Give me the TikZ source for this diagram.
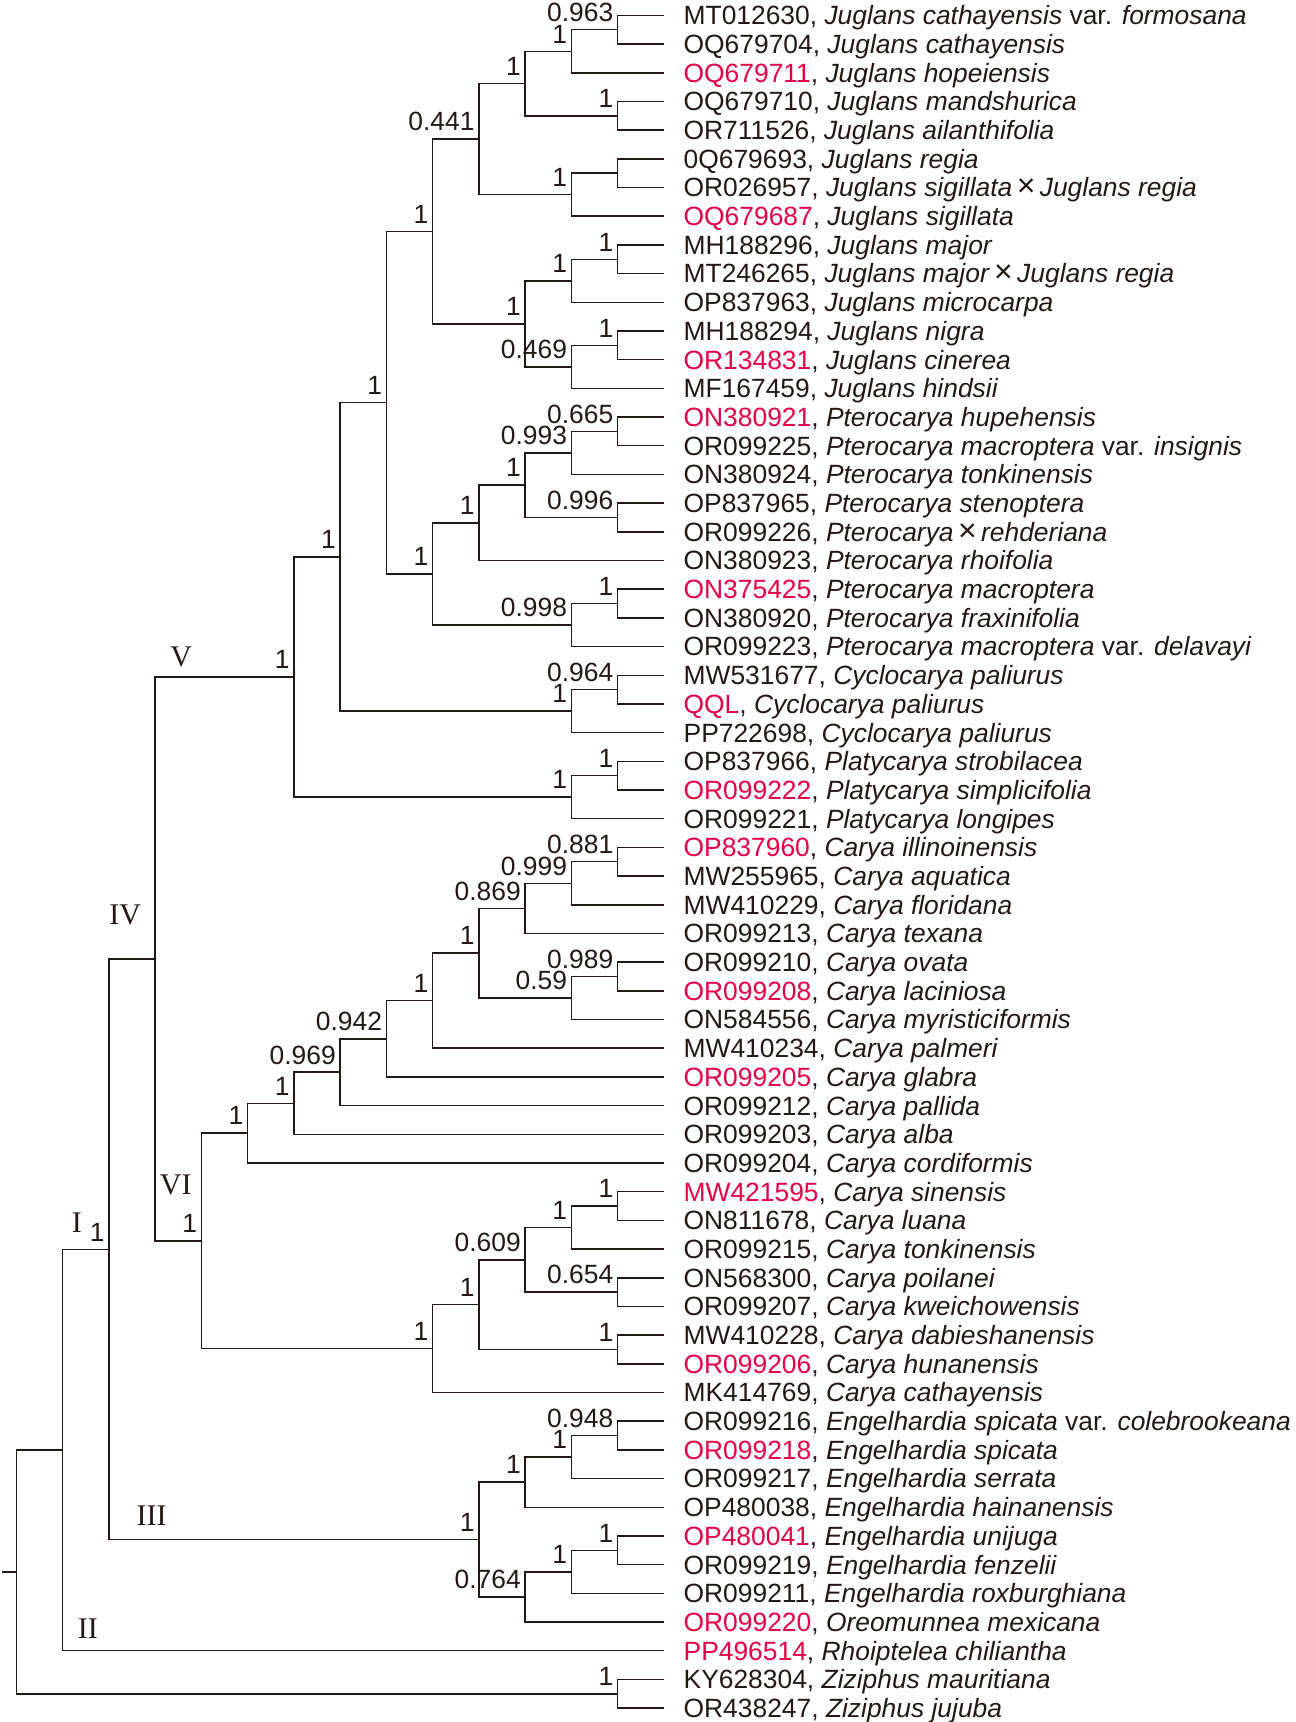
\documentclass[tikz,border=0pt]{standalone}
\usepackage{fontspec}
\usepackage{xcolor}
\usepackage{tikz}
\usetikzlibrary{positioning}
\setmainfont{Liberation Sans}
\newfontfamily\romfont{Liberation Serif}
\definecolor{ink}{RGB}{35,24,21}
\definecolor{accred}{RGB}{228,0,70}
\newcommand{\redacc}[1]{\textcolor{accred}{#1}}
\newcommand{\hyb}{\,{\fontsize{16}{15}\selectfont ×}\,}
\newcommand{\clade}[6]{%
    \coordinate (#1) at (#2,#3);
    \draw [branch] (#4) -| (#1) |- (#5);
    \node (#1s) [support] at (#1) {#6};}

\begin{document}
\begin{tikzpicture}[ x=23.12pt, y=-14.345pt, node distance=9.7pt,
    font=\fontsize{13.2}{15}\selectfont,
    branch/.style= {draw=ink, line width=0.75pt},
    leaf/.style= {inner sep=0pt, text height=9.4pt, text depth=0pt, text=ink},
    support/.style= {anchor=base east, inner sep=0pt, xshift=-2pt, yshift=4.1pt, text=ink},
    clademark/.style= {inner sep=0pt, text=ink, font=\romfont\fontsize{15}{15}\selectfont} ]
    \useasboundingbox (-0.3564,0.4639) rectangle (27.650,60.485);
    \coordinate (t1) at (14,1); \node (l1) [leaf, right=of t1] {MT012630, \textit{Juglans cathayensis} var. \textit{formosana}};
    \coordinate (t2) at (14,2); \node (l2) [leaf, right=of t2] {OQ679704, \textit{Juglans cathayensis}};
    \coordinate (t3) at (14,3); \node (l3) [leaf, right=of t3] {\redacc{OQ679711}, \textit{Juglans hopeiensis}};
    \coordinate (t4) at (14,4); \node (l4) [leaf, right=of t4] {OQ679710, \textit{Juglans mandshurica}};
    \coordinate (t5) at (14,5); \node (l5) [leaf, right=of t5] {OR711526, \textit{Juglans ailanthifolia}};
    \coordinate (t6) at (14,6); \node (l6) [leaf, right=of t6] {0Q679693, \textit{Juglans regia}};
    \coordinate (t7) at (14,7); \node (l7) [leaf, right=of t7] {OR026957, \textit{Juglans sigillata}\hyb\textit{Juglans regia}};
    \coordinate (t8) at (14,8); \node (l8) [leaf, right=of t8] {\redacc{OQ679687}, \textit{Juglans sigillata}};
    \coordinate (t9) at (14,9); \node (l9) [leaf, right=of t9] {MH188296, \textit{Juglans major}};
    \coordinate (t10) at (14,10); \node (l10) [leaf, right=of t10] {MT246265, \textit{Juglans major}\hyb\textit{Juglans regia}};
    \coordinate (t11) at (14,11); \node (l11) [leaf, right=of t11] {OP837963, \textit{Juglans microcarpa}};
    \coordinate (t12) at (14,12); \node (l12) [leaf, right=of t12] {MH188294, \textit{Juglans nigra}};
    \coordinate (t13) at (14,13); \node (l13) [leaf, right=of t13] {\redacc{OR134831}, \textit{Juglans cinerea}};
    \coordinate (t14) at (14,14); \node (l14) [leaf, right=of t14] {MF167459, \textit{Juglans hindsii}};
    \coordinate (t15) at (14,15); \node (l15) [leaf, right=of t15] {\redacc{ON380921}, \textit{Pterocarya hupehensis}};
    \coordinate (t16) at (14,16); \node (l16) [leaf, right=of t16] {OR099225, \textit{Pterocarya macroptera} var. \textit{insignis}};
    \coordinate (t17) at (14,17); \node (l17) [leaf, right=of t17] {ON380924, \textit{Pterocarya tonkinensis}};
    \coordinate (t18) at (14,18); \node (l18) [leaf, right=of t18] {OP837965, \textit{Pterocarya stenoptera}};
    \coordinate (t19) at (14,19); \node (l19) [leaf, right=of t19] {OR099226, \textit{Pterocarya}\hyb\textit{rehderiana}};
    \coordinate (t20) at (14,20); \node (l20) [leaf, right=of t20] {ON380923, \textit{Pterocarya rhoifolia}};
    \coordinate (t21) at (14,21); \node (l21) [leaf, right=of t21] {\redacc{ON375425}, \textit{Pterocarya macroptera}};
    \coordinate (t22) at (14,22); \node (l22) [leaf, right=of t22] {ON380920, \textit{Pterocarya fraxinifolia}};
    \coordinate (t23) at (14,23); \node (l23) [leaf, right=of t23] {OR099223, \textit{Pterocarya macroptera} var. \textit{delavayi}};
    \coordinate (t24) at (14,24); \node (l24) [leaf, right=of t24] {MW531677, \textit{Cyclocarya paliurus}};
    \coordinate (t25) at (14,25); \node (l25) [leaf, right=of t25] {\redacc{QQL}, \textit{Cyclocarya paliurus}};
    \coordinate (t26) at (14,26); \node (l26) [leaf, right=of t26] {PP722698, \textit{Cyclocarya paliurus}};
    \coordinate (t27) at (14,27); \node (l27) [leaf, right=of t27] {OP837966, \textit{Platycarya strobilacea}};
    \coordinate (t28) at (14,28); \node (l28) [leaf, right=of t28] {\redacc{OR099222}, \textit{Platycarya simplicifolia}};
    \coordinate (t29) at (14,29); \node (l29) [leaf, right=of t29] {OR099221, \textit{Platycarya longipes}};
    \coordinate (t30) at (14,30); \node (l30) [leaf, right=of t30] {\redacc{OP837960}, \textit{Carya illinoinensis}};
    \coordinate (t31) at (14,31); \node (l31) [leaf, right=of t31] {MW255965, \textit{Carya aquatica}};
    \coordinate (t32) at (14,32); \node (l32) [leaf, right=of t32] {MW410229, \textit{Carya floridana}};
    \coordinate (t33) at (14,33); \node (l33) [leaf, right=of t33] {OR099213, \textit{Carya texana}};
    \coordinate (t34) at (14,34); \node (l34) [leaf, right=of t34] {OR099210, \textit{Carya ovata}};
    \coordinate (t35) at (14,35); \node (l35) [leaf, right=of t35] {\redacc{OR099208}, \textit{Carya laciniosa}};
    \coordinate (t36) at (14,36); \node (l36) [leaf, right=of t36] {ON584556, \textit{Carya myristiciformis}};
    \coordinate (t37) at (14,37); \node (l37) [leaf, right=of t37] {MW410234, \textit{Carya palmeri}};
    \coordinate (t38) at (14,38); \node (l38) [leaf, right=of t38] {\redacc{OR099205}, \textit{Carya glabra}};
    \coordinate (t39) at (14,39); \node (l39) [leaf, right=of t39] {OR099212, \textit{Carya pallida}};
    \coordinate (t40) at (14,40); \node (l40) [leaf, right=of t40] {OR099203, \textit{Carya alba}};
    \coordinate (t41) at (14,41); \node (l41) [leaf, right=of t41] {OR099204, \textit{Carya cordiformis}};
    \coordinate (t42) at (14,42); \node (l42) [leaf, right=of t42] {\redacc{MW421595}, \textit{Carya sinensis}};
    \coordinate (t43) at (14,43); \node (l43) [leaf, right=of t43] {ON811678, \textit{Carya luana}};
    \coordinate (t44) at (14,44); \node (l44) [leaf, right=of t44] {OR099215, \textit{Carya tonkinensis}};
    \coordinate (t45) at (14,45); \node (l45) [leaf, right=of t45] {ON568300, \textit{Carya poilanei}};
    \coordinate (t46) at (14,46); \node (l46) [leaf, right=of t46] {OR099207, \textit{Carya kweichowensis}};
    \coordinate (t47) at (14,47); \node (l47) [leaf, right=of t47] {MW410228, \textit{Carya dabieshanensis}};
    \coordinate (t48) at (14,48); \node (l48) [leaf, right=of t48] {\redacc{OR099206}, \textit{Carya hunanensis}};
    \coordinate (t49) at (14,49); \node (l49) [leaf, right=of t49] {MK414769, \textit{Carya cathayensis}};
    \coordinate (t50) at (14,50); \node (l50) [leaf, right=of t50] {OR099216, \textit{Engelhardia spicata} var. \textit{colebrookeana}};
    \coordinate (t51) at (14,51); \node (l51) [leaf, right=of t51] {\redacc{OR099218}, \textit{Engelhardia spicata}};
    \coordinate (t52) at (14,52); \node (l52) [leaf, right=of t52] {OR099217, \textit{Engelhardia serrata}};
    \coordinate (t53) at (14,53); \node (l53) [leaf, right=of t53] {OP480038, \textit{Engelhardia hainanensis}};
    \coordinate (t54) at (14,54); \node (l54) [leaf, right=of t54] {\redacc{OP480041}, \textit{Engelhardia unijuga}};
    \coordinate (t55) at (14,55); \node (l55) [leaf, right=of t55] {OR099219, \textit{Engelhardia fenzelii}};
    \coordinate (t56) at (14,56); \node (l56) [leaf, right=of t56] {OR099211, \textit{Engelhardia roxburghiana}};
    \coordinate (t57) at (14,57); \node (l57) [leaf, right=of t57] {\redacc{OR099220}, \textit{Oreomunnea mexicana}};
    \coordinate (t58) at (14,58); \node (l58) [leaf, right=of t58] {\redacc{PP496514}, \textit{Rhoiptelea chiliantha}};
    \coordinate (t59) at (14,59); \node (l59) [leaf, right=of t59] {KY628304, \textit{Ziziphus mauritiana}};
    \coordinate (t60) at (14,60); \node (l60) [leaf, right=of t60] {OR438247, \textit{Ziziphus jujuba}};
    \clade{j1}{13}{1.5}{t1}{t2}{0.963}
    \clade{j2}{12}{2.25}{j1}{t3}{1}
    \clade{j3}{13}{4.5}{t4}{t5}{1}
    \clade{j4}{11}{3.375}{j2}{j3}{1}
    \clade{j5}{13}{6.5}{t6}{t7}{}
    \clade{j6}{12}{7.25}{j5}{t8}{1}
    \clade{j7}{10}{5.3125}{j4}{j6}{0.441}
    \clade{j8}{13}{9.5}{t9}{t10}{1}
    \clade{j9}{12}{10.25}{j8}{t11}{1}
    \clade{j10}{13}{12.5}{t12}{t13}{1}
    \clade{j11}{12}{13.25}{j10}{t14}{0.469}
    \clade{j12}{11}{11.75}{j9}{j11}{1}
    \clade{jug}{9}{8.53125}{j7}{j12}{1}
    \clade{p1}{13}{15.5}{t15}{t16}{0.665}
    \clade{p2}{12}{16.25}{p1}{t17}{0.993}
    \clade{p3}{13}{18.5}{t18}{t19}{0.996}
    \clade{p4}{11}{17.375}{p2}{p3}{1}
    \clade{p5}{10}{18.6875}{p4}{t20}{1}
    \clade{p6}{13}{21.5}{t21}{t22}{1}
    \clade{p7}{12}{22.25}{p6}{t23}{0.998}
    \clade{pte}{9}{20.46875}{p5}{p7}{1}
    \clade{jp}{8}{14.5}{jug}{pte}{1}
    \clade{c1}{13}{24.5}{t24}{t25}{0.964}
    \clade{c2}{12}{25.25}{c1}{t26}{1}
    \clade{jpc}{7}{19.875}{jp}{c2}{1}
    \clade{y1}{13}{27.5}{t27}{t28}{1}
    \clade{y2}{12}{28.25}{y1}{t29}{1}
    \clade{cv}{6}{24.0625}{jpc}{y2}{1}
    \clade{k1}{13}{30.5}{t30}{t31}{0.881}
    \clade{k2}{12}{31.25}{k1}{t32}{0.999}
    \clade{k3}{11}{32.125}{k2}{t33}{0.869}
    \clade{k4}{13}{34.5}{t34}{t35}{0.989}
    \clade{k5}{12}{35.25}{k4}{t36}{0.59}
    \clade{k6}{10}{33.6875}{k3}{k5}{1}
    \clade{k7}{9}{35.34375}{k6}{t37}{1}
    \clade{k8}{8}{36.671875}{k7}{t38}{0.942}
    \clade{k9}{7}{37.8359375}{k8}{t39}{0.969}
    \clade{k10}{6}{38.91796875}{k9}{t40}{1}
    \clade{k11}{5}{39.958984375}{k10}{t41}{1}
    \clade{a1}{13}{42.5}{t42}{t43}{1}
    \clade{a2}{12}{43.25}{a1}{t44}{1}
    \clade{a3}{13}{45.5}{t45}{t46}{0.654}
    \clade{a4}{11}{44.375}{a2}{a3}{0.609}
    \clade{a5}{13}{47.5}{t47}{t48}{1}
    \clade{a6}{10}{45.9375}{a4}{a5}{1}
    \clade{a7}{9}{47.46875}{a6}{t49}{1}
    \clade{cvi}{4}{43.7138671875}{k11}{a7}{1}
    \clade{civ}{3}{33.88818359375}{cv}{cvi}{}
    \clade{e1}{13}{50.5}{t50}{t51}{0.948}
    \clade{e2}{12}{51.25}{e1}{t52}{1}
    \clade{e3}{11}{52.125}{e2}{t53}{1}
    \clade{e4}{13}{54.5}{t54}{t55}{1}
    \clade{e5}{12}{55.25}{e4}{t56}{1}
    \clade{e6}{11}{56.125}{e5}{t57}{0.764}
    \clade{ciii}{10}{54.125}{e3}{e6}{1}
    \clade{ci}{2}{44.006591796875}{civ}{ciii}{1}
    \clade{cii}{1}{51.0032958984375}{ci}{t58}{}
    \clade{out}{13}{59.5}{t59}{t60}{1}
    \clade{root}{0}{55.25164794921875}{cii}{out}{}
    \coordinate (stub) at (-0.31,55.25164794921875);
    \draw [branch] (stub) -- (root);
    \node (mI) [clademark] at (1.307,43.07) {I};
    \node (mII) [clademark] at (1.544,57.24) {II};
    \node (mIII) [clademark] at (2.922,53.30) {III};
    \node (mIV) [clademark] at (2.352,32.36) {IV};
    \node (mV) [clademark] at (3.563,23.36) {V};
    \node (mVI) [clademark] at (3.444,41.77) {VI};
\end{tikzpicture}
\end{document}
